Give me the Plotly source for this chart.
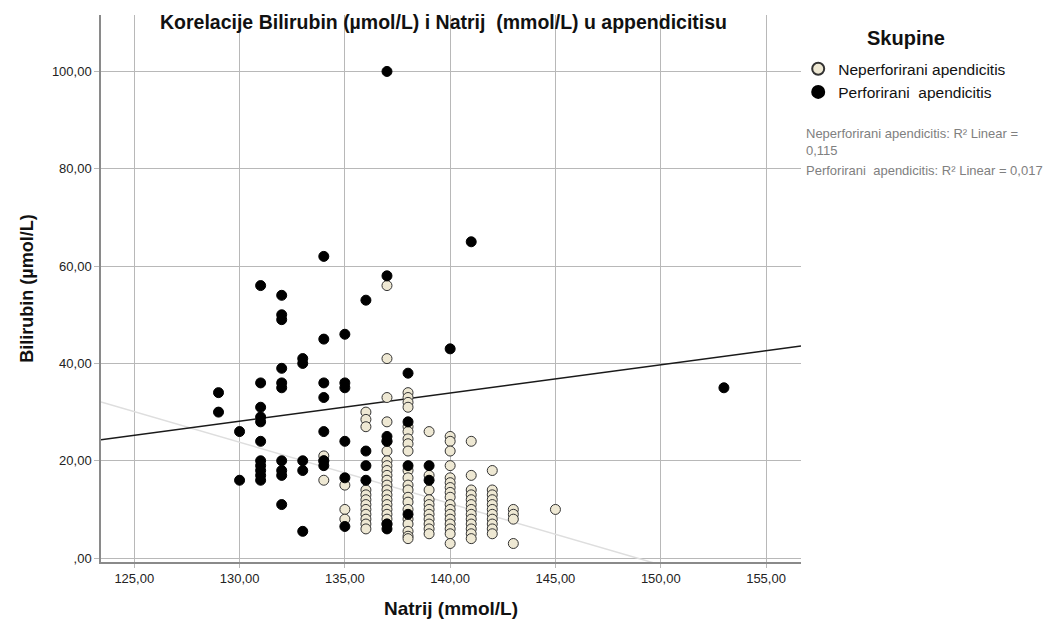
import plotly.graph_objects as go

# ---- data ----
nep_na = ([134]*3 + [135]*3 + [136]*12 + [137]*20 + [138]*21 + [139]*11 +
          [140]*17 + [141]*13 + [142]*11 + [143]*4 + [145])
nep_bil = [21, 20, 16,
           15, 10, 8,
           30, 28.5, 27, 14, 13, 12, 11, 10, 9, 8, 7, 6,
           56, 41, 33, 28, 24, 22, 20, 19, 18, 17, 16, 15, 14, 13, 12, 11, 10, 9, 8, 7,
           34, 33, 32, 31, 27, 26, 24.5, 23.5, 22, 18, 16.5, 15, 14, 12.5, 11.5, 10, 8, 7, 5.5, 4.5, 4,
           26, 17, 14, 12, 11, 10, 9, 8, 7, 6, 5,
           25, 24, 22, 19, 16.5, 15.5, 14.5, 13.5, 12.5, 11, 10, 9, 8, 7, 6, 5, 3,
           24, 17, 14, 13, 12, 11, 10, 9, 8, 7, 6, 5, 4,
           18, 14, 13, 12, 11, 10, 9, 8, 7, 6, 5,
           10, 9, 8, 3,
           10]

per_na = ([129]*2 + [130]*2 + [131]*11 + [132]*10 + [133]*5 + [134]*7 + [135]*6 +
          [136]*4 + [137]*6 + [138]*4 + [139]*2 + [140] + [141] + [153])
per_bil = [34, 30,
           26, 16,
           56, 36, 31, 29, 28, 24, 20, 19, 18, 17, 16,
           54, 50, 49, 39, 36, 35, 20, 18, 17, 11,
           41, 40, 20, 18, 5.5,
           62, 45, 36, 33, 26, 20, 19,
           46, 36, 35, 24, 16.5, 6.5,
           53, 22, 19, 16,
           100, 58, 25, 24, 7, 6,
           38, 28, 19, 9,
           19, 16,
           43,
           65,
           35]

group_names = ["Neperforirani apendicitis", "Perforirani\u00a0 apendicitis"]
legend_title = "Skupine"
# linear fit lines (intercept, slope)
fit_intercept = [187.6, -47.36]
fit_slope = [-1.260, 0.5806]
r2_text = ["Neperforirani apendicitis: R\u00b2 Linear =<br>0,115",
           "Perforirani\u00a0 apendicitis: R\u00b2 Linear = 0,017"]

x_ticks = [125, 130, 135, 140, 145, 150, 155]
x_ticklabels = ["125,00", "130,00", "135,00", "140,00", "145,00", "150,00", "155,00"]
y_ticks = [0, 20, 40, 60, 80, 100]
y_ticklabels = [",00", "20,00", "40,00", "60,00", "80,00", "100,00"]

X_RANGE = [123.42, 156.66]
Y_RANGE = [-0.8, 111.6]

FONT = "Liberation Sans, Arial, sans-serif"

fig = go.Figure()

# fit lines
line_colors = ["#dedede", "#1a1a1a"]
for i in range(2):
    xs = X_RANGE
    ys = [fit_intercept[i] + fit_slope[i] * v for v in xs]
    fig.add_trace(go.Scatter(x=xs, y=ys, mode="lines",
                             line=dict(color=line_colors[i], width=1.5),
                             showlegend=False, hoverinfo="skip"))

fig.add_trace(go.Scatter(x=nep_na, y=nep_bil, mode="markers", name=group_names[0],
                         marker=dict(size=10, color="#eee8d3",
                                     line=dict(color="#333333", width=1))))
fig.add_trace(go.Scatter(x=per_na, y=per_bil, mode="markers", name=group_names[1],
                         marker=dict(size=10, color="#000000",
                                     line=dict(color="#000000", width=1))))

fig.update_layout(
    width=1059, height=624,
    margin=dict(l=93, r=266, t=7, b=70),
    paper_bgcolor="white", plot_bgcolor="white",
    font=dict(family=FONT, color="#222222"),
    showlegend=True,
    legend=dict(x=0.996, y=0.932, xanchor="left", yanchor="top",
                font=dict(size=15.5, color="#111111"),
                bgcolor="rgba(0,0,0,0)", tracegroupgap=0, itemsizing="constant"),
    xaxis=dict(range=X_RANGE, tickvals=x_ticks, ticktext=x_ticklabels,
               showgrid=True, gridcolor="#b8b8b8", gridwidth=1,
               showline=True, linecolor="#8a8a8a", linewidth=1.5,
               ticks="outside", ticklen=4, tickcolor="#b8b8b8",
               zeroline=False, tickfont=dict(size=13, color="#222222"),
               title=dict(text="<b>Natrij (mmol/L)</b>", font=dict(size=19, color="#111111"),
                          standoff=16)),
    yaxis=dict(range=Y_RANGE, tickvals=y_ticks, ticktext=y_ticklabels,
               showgrid=True, gridcolor="#b8b8b8", gridwidth=1,
               showline=True, linecolor="#8a8a8a", linewidth=1.5,
               ticks="outside", ticklen=5, tickcolor="#b8b8b8",
               zeroline=False, tickfont=dict(size=13, color="#222222"),
               title=dict(text="<b>Bilirubin (\u00b5mol/L)</b>", font=dict(size=18, color="#111111"),
                          standoff=14)),
)

fig.add_annotation(text="<b>Korelacije Bilirubin (\u00b5mol/L) i Natrij\u00a0 (mmol/L) u appendicitisu</b>",
                   xref="paper", yref="paper", x=0.489, y=1.0, xanchor="center", yanchor="middle",
                   yshift=-7, showarrow=False, font=dict(size=19.5, color="#111111", family=FONT))

fig.add_annotation(text="<b>" + legend_title + "</b>", xref="paper", yref="paper",
                   x=1.15, y=1.0, xanchor="center", yanchor="middle", yshift=-23,
                   showarrow=False, font=dict(size=20, color="#111111", family=FONT))

fig.add_annotation(text=r2_text[0], xref="paper", yref="paper", x=1.004, y=0.80,
                   xanchor="left", yanchor="top", align="left", showarrow=False,
                   font=dict(size=13, color="#808080", family=FONT))
fig.add_annotation(text=r2_text[1], xref="paper", yref="paper", x=1.004, y=0.733,
                   xanchor="left", yanchor="top", align="left", showarrow=False,
                   font=dict(size=13, color="#808080", family=FONT))

fig.write_html("out.html")
